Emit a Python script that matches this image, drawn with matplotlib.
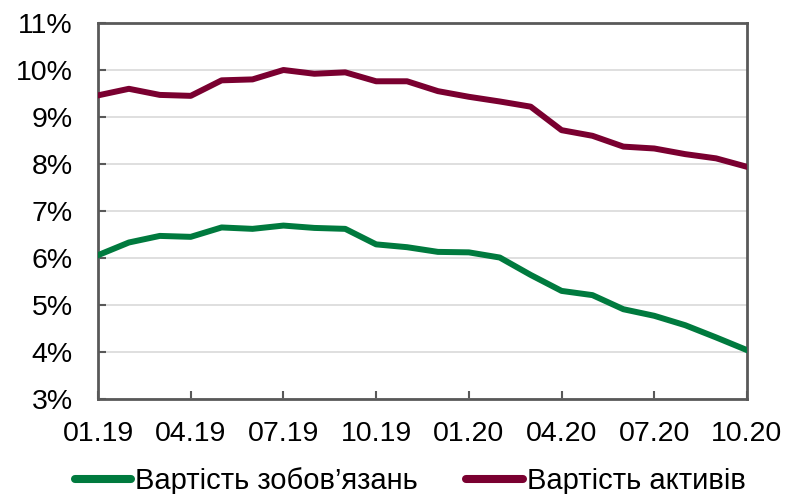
import numpy as np
import matplotlib
matplotlib.use("Agg")
import matplotlib.pyplot as plt
from matplotlib.ticker import FixedLocator

# дані (у відсотках), щомісяця з 01.19 по 10.20
months = ["01.19", "02.19", "03.19", "04.19", "05.19", "06.19", "07.19", "08.19",
          "09.19", "10.19", "11.19", "12.19", "01.20", "02.20", "03.20", "04.20",
          "05.20", "06.20", "07.20", "08.20", "09.20", "10.20"]
liabilities = [6.06, 6.33, 6.47, 6.45, 6.65, 6.62, 6.69, 6.64, 6.62, 6.29, 6.23,
               6.13, 6.12, 6.01, 5.64, 5.30, 5.21, 4.91, 4.77, 4.57, 4.31, 4.04]
assets = [9.46, 9.60, 9.47, 9.45, 9.78, 9.80, 10.00, 9.92, 9.95, 9.76, 9.76,
          9.55, 9.43, 9.33, 9.22, 8.72, 8.60, 8.37, 8.33, 8.21, 8.12, 7.94]
label_liab = "Вартість зобов’язань"
label_assets = "Вартість активів"

plt.rcParams["font.family"] = ["Liberation Sans", "DejaVu Sans"]

green = "#007A3E"
red = "#7A0030"
frame = "#595959"

fig = plt.figure(figsize=(7.86, 4.94), dpi=100)
ax = fig.add_axes([98 / 786, 95 / 494, 649 / 786, 376 / 494])

x = np.arange(len(months))
ax.plot(x, liabilities, color=green, lw=4.3, label=label_liab, zorder=3)
ax.plot(x, assets, color=red, lw=4.3, label=label_assets, zorder=3)

ax.set_xlim(0, len(months) - 1)
ax.set_ylim(3, 11)
ax.set_yticks(np.arange(3, 12, 1))
ax.set_yticklabels([f"{v}%" for v in range(3, 12)])
ax.xaxis.set_major_locator(FixedLocator(x[::3]))
ax.set_xticklabels(months[::3])

ax.grid(axis="y", color="#D9D9D9", lw=1.2, zorder=1)
for s in ax.spines.values():
    s.set_color(frame)
    s.set_linewidth(2)
ax.tick_params(direction="in", length=6, width=1.5, color=frame,
               labelsize=20.5, labelcolor="black")
ax.tick_params(axis="y", pad=18)
ax.tick_params(axis="x", pad=16)

leg = fig.legend(loc="center left", bbox_to_anchor=(60 / 786, 1 - 481 / 494), ncol=2,
                 frameon=False, fontsize=21, handlelength=1.95, handletextpad=0.13,
                 columnspacing=1.65, borderpad=0)
for line in leg.get_lines():
    line.set_linewidth(5.8)
    line.set_solid_capstyle("round")

fig.savefig("out.png", dpi=100)
